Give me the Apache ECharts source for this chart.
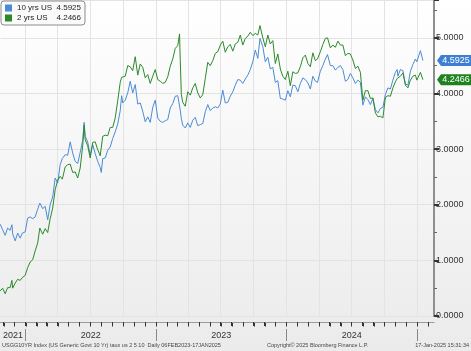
<!DOCTYPE html>
<html>
<head>
<meta charset="utf-8">
<script src="https://cdn.jsdelivr.net/npm/echarts@6/dist/echarts.min.js"></script>
<style>
html, body { margin: 0; padding: 0; }
#chart { width: 471px; height: 351px; }
</style>
</head>
<body>
<div id="chart"></div>
<script>
var dates = [
	'2021-10-22', '2021-10-29', '2021-11-05', '2021-11-12', '2021-11-19', '2021-11-24', '2021-11-26', '2021-12-03', '2021-12-10', '2021-12-17', '2021-12-23', '2021-12-31',
	'2022-01-07', '2022-01-14', '2022-01-21', '2022-01-28', '2022-02-04', '2022-02-10', '2022-02-18', '2022-02-25', '2022-03-04', '2022-03-11', '2022-03-18', '2022-03-25',
	'2022-04-01', '2022-04-08', '2022-04-14', '2022-04-22', '2022-04-29', '2022-05-06', '2022-05-13', '2022-05-20', '2022-05-27', '2022-06-03', '2022-06-10', '2022-06-14',
	'2022-06-17', '2022-06-24', '2022-07-01', '2022-07-08', '2022-07-15', '2022-07-22', '2022-07-29', '2022-08-01', '2022-08-05', '2022-08-12', '2022-08-19', '2022-08-26',
	'2022-09-02', '2022-09-09', '2022-09-16', '2022-09-23', '2022-09-27', '2022-09-30', '2022-10-07', '2022-10-14', '2022-10-21', '2022-10-28', '2022-11-04', '2022-11-11',
	'2022-11-18', '2022-11-25', '2022-12-02', '2022-12-09', '2022-12-16', '2022-12-23', '2022-12-30',
	'2023-01-06', '2023-01-13', '2023-01-20', '2023-01-27', '2023-02-03', '2023-02-10', '2023-02-17', '2023-02-24', '2023-03-03', '2023-03-08', '2023-03-10', '2023-03-13',
	'2023-03-17', '2023-03-24', '2023-03-31', '2023-04-07', '2023-04-14', '2023-04-21', '2023-04-28', '2023-05-05', '2023-05-12', '2023-05-19', '2023-05-26', '2023-06-02',
	'2023-06-09', '2023-06-16', '2023-06-23', '2023-06-30', '2023-07-07', '2023-07-14', '2023-07-21', '2023-07-28', '2023-08-04', '2023-08-11', '2023-08-18', '2023-08-25',
	'2023-09-01', '2023-09-08', '2023-09-15', '2023-09-22', '2023-09-29', '2023-10-06', '2023-10-13', '2023-10-19', '2023-10-27', '2023-11-03', '2023-11-10', '2023-11-17',
	'2023-11-24', '2023-12-01', '2023-12-08', '2023-12-15', '2023-12-22', '2023-12-29',
	'2024-01-05', '2024-01-12', '2024-01-19', '2024-01-26', '2024-02-02', '2024-02-09', '2024-02-16', '2024-02-23', '2024-03-01', '2024-03-08', '2024-03-15', '2024-03-22',
	'2024-03-28', '2024-04-05', '2024-04-12', '2024-04-19', '2024-04-25', '2024-05-03', '2024-05-10', '2024-05-17', '2024-05-24', '2024-05-31', '2024-06-07', '2024-06-14',
	'2024-06-21', '2024-06-28', '2024-07-05', '2024-07-12', '2024-07-19', '2024-07-26', '2024-08-02', '2024-08-05', '2024-08-09', '2024-08-16', '2024-08-23', '2024-08-30',
	'2024-09-06', '2024-09-13', '2024-09-20', '2024-09-27', '2024-10-04', '2024-10-11', '2024-10-18', '2024-10-25', '2024-11-01', '2024-11-06', '2024-11-08', '2024-11-15',
	'2024-11-22', '2024-11-29', '2024-12-06', '2024-12-13', '2024-12-20', '2024-12-27', '2024-12-31',
	'2025-01-03', '2025-01-10', '2025-01-14', '2025-01-17'
];
var us10 = [
	1.65, 1.55, 1.45, 1.58, 1.54, 1.64, 1.48, 1.35, 1.49, 1.40, 1.49, 1.51,
	1.76, 1.78, 1.75, 1.78, 1.92, 2.03, 1.93, 1.97, 1.73, 2.00, 2.14, 2.48,
	2.39, 2.72, 2.83, 2.90, 2.89, 3.13, 2.93, 2.78, 2.74, 2.94, 3.16, 3.48,
	3.23, 3.13, 2.89, 3.08, 2.92, 2.78, 2.67, 2.58, 2.83, 2.84, 2.98, 3.04,
	3.19, 3.31, 3.45, 3.69, 3.96, 3.83, 3.88, 4.01, 4.22, 4.01, 4.16, 3.81,
	3.83, 3.68, 3.49, 3.58, 3.48, 3.75, 3.88,
	3.56, 3.50, 3.48, 3.51, 3.53, 3.74, 3.82, 3.95, 3.96, 3.99, 3.70, 3.55,
	3.43, 3.38, 3.47, 3.39, 3.52, 3.57, 3.42, 3.44, 3.46, 3.67, 3.80, 3.69,
	3.74, 3.76, 3.74, 3.81, 4.06, 3.83, 3.84, 3.95, 4.03, 4.15, 4.25, 4.24,
	4.18, 4.26, 4.33, 4.43, 4.57, 4.78, 4.63, 4.99, 4.84, 4.57, 4.65, 4.44,
	4.47, 4.20, 4.23, 3.91, 3.90, 3.88,
	4.05, 3.94, 4.15, 4.14, 4.03, 4.18, 4.28, 4.25, 4.19, 4.08, 4.31, 4.22,
	4.20, 4.40, 4.50, 4.62, 4.70, 4.50, 4.50, 4.42, 4.47, 4.50, 4.43, 4.22,
	4.25, 4.36, 4.28, 4.18, 4.24, 4.20, 3.79, 3.78, 3.94, 3.89, 3.80, 3.91,
	3.71, 3.65, 3.73, 3.75, 3.98, 4.10, 4.08, 4.24, 4.38, 4.43, 4.31, 4.43,
	4.41, 4.17, 4.15, 4.40, 4.52, 4.62, 4.57,
	4.60, 4.77, 4.79, 4.5925
];
var us2 = [
	0.45, 0.50, 0.40, 0.51, 0.51, 0.64, 0.50, 0.59, 0.66, 0.64, 0.69, 0.73,
	0.87, 0.97, 1.01, 1.17, 1.31, 1.58, 1.47, 1.57, 1.50, 1.75, 1.94, 2.27,
	2.44, 2.51, 2.46, 2.68, 2.72, 2.73, 2.58, 2.59, 2.48, 2.66, 3.06, 3.43,
	3.17, 3.06, 2.84, 3.12, 3.13, 2.99, 2.88, 2.89, 3.23, 3.25, 3.24, 3.39,
	3.39, 3.56, 3.87, 4.20, 4.29, 4.28, 4.31, 4.50, 4.48, 4.41, 4.66, 4.33,
	4.53, 4.47, 4.28, 4.34, 4.18, 4.31, 4.43,
	4.25, 4.22, 4.18, 4.20, 4.30, 4.49, 4.62, 4.81, 4.86, 5.07, 4.59, 3.98,
	3.84, 3.77, 4.03, 3.97, 4.10, 4.18, 4.01, 3.92, 3.98, 4.27, 4.56, 4.50,
	4.59, 4.72, 4.75, 4.87, 4.94, 4.74, 4.84, 4.88, 4.76, 4.89, 4.92, 5.05,
	4.87, 4.99, 5.03, 5.10, 5.04, 5.08, 5.05, 5.22, 5.00, 4.84, 5.05, 4.89,
	4.95, 4.54, 4.71, 4.44, 4.31, 4.25,
	4.40, 4.14, 4.39, 4.36, 4.37, 4.48, 4.64, 4.69, 4.54, 4.48, 4.73, 4.59,
	4.62, 4.75, 4.88, 4.99, 5.00, 4.82, 4.87, 4.83, 4.94, 4.87, 4.87, 4.68,
	4.72, 4.71, 4.60, 4.45, 4.49, 4.38, 3.88, 3.89, 4.05, 4.05, 3.91, 3.92,
	3.65, 3.58, 3.59, 3.56, 3.93, 3.96, 3.95, 4.10, 4.21, 4.27, 4.25, 4.31,
	4.37, 4.15, 4.10, 4.24, 4.31, 4.33, 4.24,
	4.28, 4.38, 4.37, 4.2466
];
var seriesNames = ['10 yrs US', '2 yrs US'];
var yearLabels = ['2021', '2022', '2023', '2024'];
var axisStart = '2021-10-23';
var axisEnd = '2025-02-17';
var footerLeft = 'USGG10YR Index (US Generic Govt 10 Yr) taux us 2 5 10  Daily 06FEB2023-17JAN2025';
var footerMid = 'Copyright\u00a9 2025 Bloomberg Finance L.P.';
var footerRight = '17-Jan-2025 15:31:34';

var font = 'Liberation Sans';
var blue = '#4a8bd6';
var green = '#2a8a2a';

function ts(s) {
	var p = s.split('-');
	return new Date(+p[0], +p[1] - 1, +p[2]).getTime();
}
var startTs = ts(axisStart);
var endTs = ts(axisEnd);

// month / quarter / year ticks
var monthTicks = [], quarterTicks = [], yearTicks = [];
for (var y = 2021; y <= 2025; y++) {
	for (var m = 0; m < 12; m++) {
		var t = new Date(y, m, 1).getTime();
		if (t < startTs || t > endTs) continue;
		monthTicks.push(t);
		if (m % 3 === 0) quarterTicks.push(t);
		if (m === 0) yearTicks.push(t);
	}
}
var yearMids = yearLabels.map(function (yr) {
	var a = Math.max(new Date(+yr, 0, 1).getTime(), startTs);
	var b = Math.min(new Date(+yr + 1, 0, 1).getTime(), endTs);
	return (a + b) / 2;
});

function tagPoint(value, color) {
	return {
		symbol: 'path://M0,5 L4,0 L34,0 L34,10 L4,10 Z',
		symbolSize: [34, 11],
		symbolKeepAspect: false,
		symbolOffset: [20, 0],
		itemStyle: { color: color },
		label: {
			show: true, position: 'inside', offset: [2, 0], color: '#fff',
			fontSize: 9, fontFamily: font,
			formatter: function () { return value.toFixed(4); }
		},
		data: [{ coord: [endTs, value] }]
	};
}

var last10 = us10[us10.length - 1];
var last2 = us2[us2.length - 1];

var chart = echarts.init(document.getElementById('chart'));
chart.setOption({
	animation: false,
	backgroundColor: {
		type: 'linear', x: 0, y: 0, x2: 0, y2: 1,
		colorStops: [{ offset: 0, color: '#ffffff' }, { offset: 1, color: '#ebebeb' }]
	},
	grid: { left: 0, right: 37, top: 0, bottom: 35 },
	legend: {
		left: 1, top: 1, orient: 'vertical',
		icon: 'rect', itemWidth: 7, itemHeight: 7, itemGap: 2,
		backgroundColor: '#fafafa', borderColor: '#8c8c8c', borderWidth: 1, borderRadius: 3,
		padding: [3, 4, 3, 4],
		data: seriesNames,
		formatter: function (name) {
			var v = name === seriesNames[0] ? last10 : last2;
			return '{n|' + name + '}{v|' + v.toFixed(4) + '}';
		},
		textStyle: {
			fontFamily: font, fontSize: 8, color: '#222',
			rich: {
				n: { width: 40, fontFamily: font, fontSize: 8, color: '#222' },
				v: { width: 24, align: 'right', fontFamily: font, fontSize: 8, color: '#222' }
			}
		}
	},
	xAxis: [{
		type: 'value', position: 'bottom', min: startTs, max: endTs, offset: 5,
		axisLine: { show: false },
		axisTick: { show: false, customValues: quarterTicks },
		splitLine: { show: true, lineStyle: { color: '#e3e3e3', width: 1 } },
		axisLabel: {
			customValues: yearMids, margin: 10, fontSize: 9, fontFamily: font, color: '#333',
			formatter: function (v) { return String(new Date(v).getFullYear()); }
		}
	}, {
		type: 'value', position: 'bottom', min: startTs, max: endTs, offset: 6,
		axisLine: { show: true, onZero: false, lineStyle: { color: '#9a9a9a', width: 1 } },
		axisTick: { show: true, customValues: monthTicks, length: 4, lineStyle: { color: '#333', width: 1 } },
		splitLine: { show: false },
		axisLabel: { show: false }
	}, {
		type: 'value', position: 'bottom', min: startTs, max: endTs, offset: 13,
		axisLine: { show: false },
		axisTick: { show: true, customValues: yearTicks, length: 12, lineStyle: { color: '#8a8a8a' } },
		splitLine: { show: false },
		axisLabel: { show: false }
	}],
	yAxis: {
		type: 'value', position: 'right', min: 0, max: 5.68, interval: 1,
		axisLine: { show: true, lineStyle: { color: '#8f8f8f', width: 2 } },
		axisTick: { show: true, inside: false, length: 5, lineStyle: { color: '#333', width: 2 } },
		minorTick: { show: true, splitNumber: 2, length: 3, lineStyle: { color: '#666' } },
		splitLine: { show: true, lineStyle: { color: '#e3e3e3', width: 1 } },
		axisLabel: {
			margin: 2, fontSize: 9, fontFamily: font, color: '#333', showMaxLabel: false,
			formatter: function (v) { return v.toFixed(4); }
		}
	},
	series: [{
		name: seriesNames[0], type: 'line', showSymbol: false, symbol: 'none',
		color: blue, lineStyle: { width: 1, color: blue },
		data: dates.map(function (d, i) { return [ts(d), us10[i]]; }),
		markPoint: tagPoint(last10, '#3d7fd3')
	}, {
		name: seriesNames[1], type: 'line', showSymbol: false, symbol: 'none',
		color: green, lineStyle: { width: 1, color: green },
		data: dates.map(function (d, i) { return [ts(d), us2[i]]; }),
		markPoint: tagPoint(last2, '#1f821f')
	}]
});

// footer texts plus the monthly tick row, placed through the x axis scale
var graphics = [
	{ type: 'text', left: 2, top: 342, style: { text: footerLeft, fontSize: 5.5, fontFamily: font, fill: '#444' } },
	{ type: 'text', left: 267, top: 342, style: { text: footerMid, fontSize: 5.5, fontFamily: font, fill: '#444' } },
	{ type: 'text', right: 2, top: 342, style: { text: footerRight, fontSize: 5.5, fontFamily: font, fill: '#444' } }
];
var baseY = Math.round(chart.convertToPixel({ yAxisIndex: 0 }, 0)) + 6.5;
var x0 = chart.convertToPixel({ xAxisIndex: 0 }, startTs);
var x1 = chart.convertToPixel({ xAxisIndex: 0 }, endTs);
graphics.push({
	type: 'line', silent: true,
	shape: { x1: x0, y1: baseY, x2: x1, y2: baseY },
	style: { stroke: '#9a9a9a', lineWidth: 1 }
});
monthTicks.forEach(function (t) {
	var px = Math.round(chart.convertToPixel({ xAxisIndex: 0 }, t)) + 0.5;
	graphics.push({
		type: 'line', silent: true,
		shape: { x1: px, y1: baseY, x2: px, y2: baseY + 4 },
		style: { stroke: '#333', lineWidth: 1 }
	});
});
chart.setOption({ graphic: graphics });
</script>
</body>
</html>
